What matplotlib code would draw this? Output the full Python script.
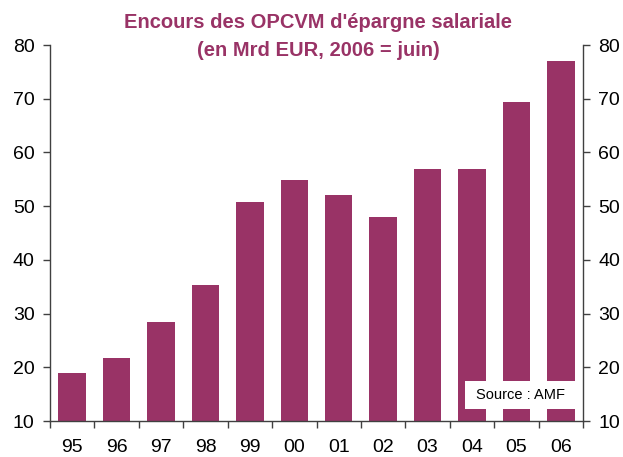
import matplotlib
matplotlib.use("Agg")
import matplotlib.pyplot as plt
from matplotlib.patches import Rectangle

years = ["95", "96", "97", "98", "99", "00", "01", "02", "03", "04", "05", "06"]
encours = [19.0, 21.8, 28.4, 35.3, 50.7, 54.8, 52.0, 47.9, 56.9, 56.9, 69.3, 77.0]
y_ticks = [10, 20, 30, 40, 50, 60, 70, 80]

plum = "#993366"
axis_col = "#404040"
plt.rcParams["font.family"] = ["Liberation Sans", "DejaVu Sans"]

fig = plt.figure(figsize=(6.23, 4.57), dpi=100)
ax = fig.add_axes([50 / 623, 1 - 421 / 457, 533 / 623, 376 / 457])

x = list(range(len(years)))
ax.bar(x, [v - 10 for v in encours], bottom=10, width=0.62, color=plum, zorder=2)

ax.set_xlim(-0.5, len(years) - 0.5)
ax.set_ylim(10, 80)
ax.set_yticks(y_ticks)
ax.set_yticklabels([str(t) for t in y_ticks], fontsize=14)
ax.tick_params(axis="y", which="both", direction="out", length=5, width=1,
               color=axis_col, labelleft=True, right=True, labelright=True, pad=6)

ax.set_xticks(x)
ax.set_xticklabels(years, fontsize=14)
ax.set_xticks([i - 0.5 for i in range(len(years) + 1)], minor=True)
ax.tick_params(axis="x", which="major", length=0, pad=13)
ax.tick_params(axis="x", which="minor", direction="out", length=5, width=1, color=axis_col)

for side in ("left", "right", "bottom"):
    ax.spines[side].set_color(axis_col)
    ax.spines[side].set_linewidth(1)
ax.spines["top"].set_visible(False)

fig.text(318 / 623, 1 - 23 / 457, "Encours des OPCVM d'épargne salariale",
         ha="center", va="center", fontsize=14.5, fontweight="bold", color=plum)
fig.text(318 / 623, 1 - 51 / 457, "(en Mrd EUR, 2006 = juin)",
         ha="center", va="center", fontsize=14.5, fontweight="bold", color=plum)

# Source note on a white box over the last bars
box = Rectangle((465 / 623, 1 - 409 / 457), 112 / 623, 28 / 457,
                transform=fig.transFigure, facecolor="white", edgecolor="none", zorder=5)
fig.add_artist(box)
fig.text(520 / 623, 1 - 395 / 457, "Source : AMF", ha="center", va="center",
         fontsize=10.5, color="black", zorder=6)

fig.savefig("out.png", dpi=100)
